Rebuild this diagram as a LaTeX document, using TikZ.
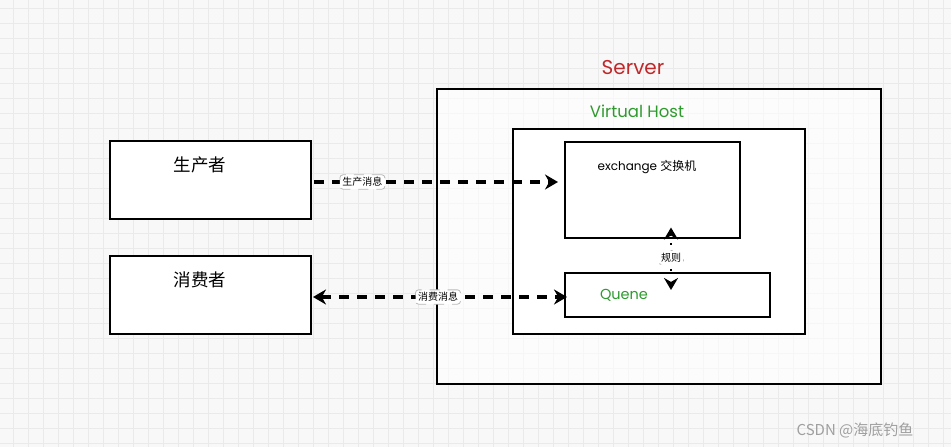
\documentclass[tikz,border=0pt]{standalone}
\usepackage{fontspec}
\setmainfont{Poppins}
\newfontfamily\cjk{Noto Sans CJK SC}
\usetikzlibrary{arrows.meta}
\definecolor{bgc}{HTML}{F8F8F8}
\definecolor{gridc}{HTML}{EAEAEA}
\definecolor{srvred}{HTML}{C0282A}
\definecolor{vhgreen}{HTML}{2E9A2E}
\tikzset{
  box/.style={draw=black, line width=2pt, fill=white, inner sep=0pt},
  dasharrow/.style={line width=3.6pt, dash pattern=on 10pt off 8pt, -{Stealth[length=13pt,width=15pt]}},
  dashboth/.style={line width=3.6pt, dash pattern=on 10pt off 8pt, {Stealth[length=13pt,width=15pt]}-{Stealth[length=13pt,width=15pt]}},
  ruleline/.style={line width=2.2pt, dash pattern=on 2pt off 24pt, dash phase=18pt, {Stealth[length=12pt,width=14pt]}-{Stealth[length=12pt,width=14pt]}},
  lab/.style={draw=gray!55, line width=0.8pt, fill=white, rounded corners=3pt, inner sep=2.5pt, font=\cjk\fontsize{10}{11}\selectfont},
}
\begin{document}
\begin{tikzpicture}[x=1pt,y=1pt]
\useasboundingbox (0,0) rectangle (951,-447);
\fill[bgc] (0,0) rectangle (951,-447);
\foreach \gx in {13,28,...,951} \draw[gridc, line width=0.7pt] (\gx,0) -- (\gx,-447);
\foreach \gy in {8,23,...,447} \draw[gridc, line width=0.7pt] (0,-\gy) -- (951,-\gy);
% Server
\node[box, fill opacity=0.6, minimum width=444pt, minimum height=295pt] (server) at (659,-236.5) {};
\node[text=srvred, font=\fontsize{20}{22}\selectfont] (servert) at (633,-68) {Server};
% Virtual host
\node[box, minimum width=292pt, minimum height=205pt] (vhost) at (659,-231) {};
\node[text=vhgreen, font=\fontsize{16.5}{18}\selectfont] (vhostt) at (637,-111) {Virtual Host};
% Exchange
\node[box, minimum width=175pt, minimum height=96pt] (exch) at (652.5,-189.5) {};
\node[font=\fontsize{12}{14}\selectfont] (excht) at (647,-167) {exchange {\cjk 交换机}};
% Queue
\node[box, minimum width=205pt, minimum height=44pt] (queue) at (667.5,-295) {};
\node[text=vhgreen, font=\fontsize{14.5}{16}\selectfont] (queuet) at (624,-295) {Quene};
% Producer / consumer
\node[box, minimum width=201pt, minimum height=78pt] (prod) at (210.5,-180) {};
\node[font=\cjk\fontsize{17.5}{19}\selectfont] (prodt) at (200,-165) {生产者};
\node[box, minimum width=201pt, minimum height=78pt] (cons) at (210.5,-295) {};
\node[font=\cjk\fontsize{17.5}{19}\selectfont] (const) at (200,-280) {消费者};
% connectors
\draw[dasharrow, shorten <=2pt, shorten >=6pt] ([yshift=-2pt]prod.east) -- ([yshift=-2pt]prod.east -| exch.west)
  node[lab, pos=0.2] (l1) {生产消息};
\draw[dashboth, shorten <=1pt, shorten >=-3pt] ([yshift=-2pt]cons.east) -- ([yshift=-2pt]cons.east -| queue.west)
  node[lab, pos=0.5] (l2) {消费消息};
\draw[ruleline] ([xshift=18.5pt,yshift=11pt]exch.south) -- ([xshift=3.5pt,yshift=-18pt]queue.north)
  node[lab, pos=0.48] (l3) {规则};
% watermark
\node[text=gray!75, font=\cjk\fontsize{15}{17}\selectfont] (wm) at (855,-430) {CSDN @海底钓鱼};
\end{tikzpicture}
\end{document}
